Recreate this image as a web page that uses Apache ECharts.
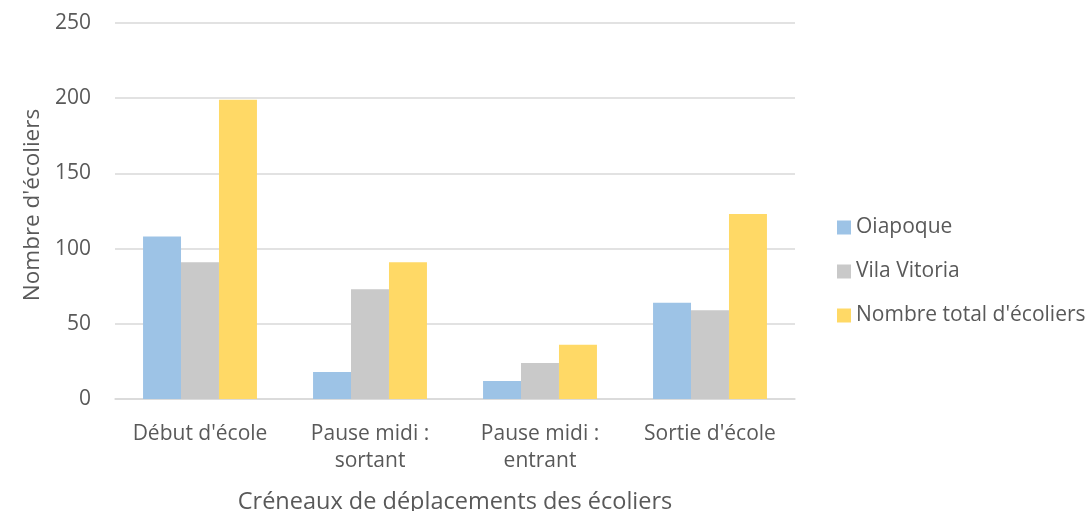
<!DOCTYPE html>
<html><head><meta charset="utf-8">
<script src="https://cdn.jsdelivr.net/npm/echarts@6/dist/echarts.min.js"></script>
<style>html,body{margin:0;padding:0;background:#fff}#c{width:1089px;height:511px}</style>
</head><body><div id="c"></div>
<script>
const categories = ["Début d'école", "Pause midi :\nsortant", "Pause midi :\nentrant", "Sortie d'école"];
const oiapoque = [108, 18, 12, 64];
const vilaVitoria = [91, 73, 24, 59];
const total = [199, 91, 36, 123];
const seriesNames = ["Oiapoque", "Vila Vitoria", "Nombre total d'écoliers"];
const colors = ["#9dc3e6", "#c9c9c9", "#ffd966"];
const FONT = "Open Sans";
const chart = echarts.init(document.getElementById('c'));
chart.setOption({
  animation: false,
  textStyle: {fontFamily: FONT},
  grid: {left: 115, right: 294, top: 23, bottom: 112, containLabel: false, outerBoundsMode: 'none'},
  legend: {
    orient: 'vertical', left: 837, top: 217, itemGap: 23, padding: 0,
    itemWidth: 14, itemHeight: 14, icon: 'rect',
    textStyle: {fontFamily: FONT, fontSize: 21, color: '#595959'},
    data: seriesNames
  },
  xAxis: {
    type: 'category', data: categories,
    name: "Créneaux de déplacements des écoliers", nameLocation: 'middle', nameGap: 91,
    nameTextStyle: {fontFamily: FONT, fontSize: 23.5, color: '#595959'},
    axisLine: {lineStyle: {color: '#d9d9d9', width: 1.5}},
    axisTick: {show: false},
    axisLabel: {fontFamily: FONT, fontSize: 21, color: '#595959', margin: 22, lineHeight: 27, interval: 0}
  },
  yAxis: {
    type: 'value', min: 0, max: 250, interval: 50,
    name: "Nombre d'écoliers", nameLocation: 'middle', nameGap: 66,
    nameTextStyle: {fontFamily: FONT, fontSize: 22.5, color: '#595959', padding: [0, 0, 0, 12]},
    axisLine: {show: false}, axisTick: {show: false},
    axisLabel: {fontFamily: FONT, fontSize: 21, color: '#595959', margin: 24},
    splitLine: {lineStyle: {color: '#d9d9d9', width: 1.5}}
  },
  series: [
    {name: seriesNames[0], type: 'bar', data: oiapoque, itemStyle: {color: colors[0]}, barGap: '0%', barCategoryGap: '33%'},
    {name: seriesNames[1], type: 'bar', data: vilaVitoria, itemStyle: {color: colors[1]}, barGap: '0%', barCategoryGap: '33%'},
    {name: seriesNames[2], type: 'bar', data: total, itemStyle: {color: colors[2]}, barGap: '0%', barCategoryGap: '33%'}
  ]
});
</script></body></html>
